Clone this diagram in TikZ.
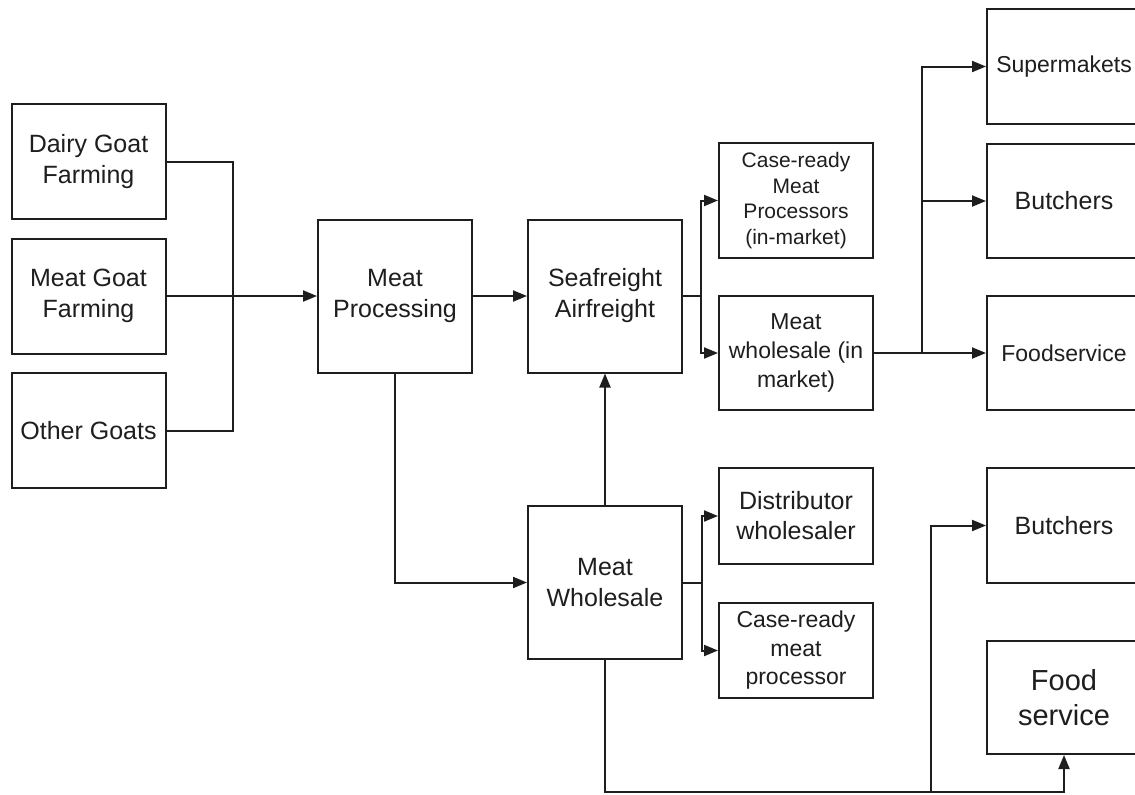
\documentclass[tikz,border=0pt]{standalone}
\usepackage{fontspec}
\setmainfont{Liberation Sans}
\usetikzlibrary{arrows.meta}
\definecolor{ink}{RGB}{30,30,30}
\newcommand{\fsA}{\fontsize{12.5pt}{15.5pt}\selectfont}
\newcommand{\fsB}{\fontsize{11.5pt}{14.5pt}\selectfont}
\newcommand{\fsC}{\fontsize{10.5pt}{12.75pt}\selectfont}
\newcommand{\fsD}{\fontsize{12.5pt}{15pt}\selectfont}
\newcommand{\fsE}{\fontsize{11.5pt}{14.25pt}\selectfont}
\newcommand{\fsF}{\fontsize{14.5pt}{17.5pt}\selectfont}
\tikzset{
  box/.style={draw=ink, text=ink, line width=1pt, inner sep=0pt, align=center, minimum width=77pt, font=\fsA},
  tallbox/.style={box, minimum height=57.5pt},
  sqbox/.style={box, minimum height=76.5pt},
  midbox/.style={box, minimum height=48pt},
  conn/.style={draw=ink, line width=1pt},
  arr/.style={conn, -{Triangle[length=7pt,width=5.5pt]}}
}
\begin{document}
\begin{tikzpicture}[x=0.5pt,y=-0.5pt]
\useasboundingbox (0,0) rectangle (1135,794);
\clip (0,0) rectangle (1135,794);
\fill[white] (0,0) rectangle (1135,794);
% left column
\node[tallbox] (dairy) at (88.5,161.5) {Dairy Goat\\Farming};
\node[tallbox] (mgoat) at (88.5,296) {Meat Goat\\Farming};
\node[tallbox] (other) at (88.5,430.5) {Other Goats};
% processing
\node[sqbox] (mp) at (395,296) {Meat\\Processing};
\node[sqbox] (sa) at (605,296) {Seafreight\\Airfreight};
\node[sqbox] (mw) at (605,582.5) {Meat\\Wholesale};
% in-market
\node[tallbox, font=\fsC] (cr1) at (796,200.5) {Case-ready\\Meat\\Processors\\(in-market)};
\node[tallbox, minimum height=57pt, font=\fsB] (mw1) at (796,353) {Meat\\wholesale (in\\market)};
\node[midbox, font=\fsD] (dist) at (796,516) {Distributor\\wholesaler};
\node[midbox, minimum height=47.5pt, font=\fsE] (crp) at (796,650.5) {Case-ready\\meat\\processor};
% right column
\node[tallbox, font=\fsB] (sm) at (1064,66.5) {Supermakets};
\node[tallbox, minimum height=57pt] (bu1) at (1064,201) {Butchers};
\node[tallbox, minimum height=57pt, font=\fsB] (fs1) at (1064,353) {Foodservice};
\node[tallbox] (bu2) at (1064,525.5) {Butchers};
\node[tallbox, minimum height=56.5pt, font=\fsF] (fs2) at (1064,697.5) {Food\\service};
% junction points
\coordinate (b1) at (233,161.5);
\coordinate (j1) at (701,296);
\coordinate (j2) at (922,353);
\coordinate (j3) at (702,582.5);
\coordinate (c3) at (605,792);
\coordinate (c4) at (931,792);
% connectors
\draw[conn] (dairy.east) -- (b1) |- (other.east);
\draw[arr] (mgoat.east) -- (mp.west);
\draw[arr] (mp.east) -- (sa.west);
\draw[conn] (sa.east) -- (j1);
\draw[arr] (j1) |- (cr1.west);
\draw[arr] (j1) |- (mw1.west);
\draw[arr] (mw1.east) -- (fs1.west);
\draw[arr] (j2) |- (sm.west);
\draw[arr] (j2) |- (bu1.west);
\draw[arr] (mp.south) |- (mw.west);
\draw[arr] (mw.north) -- (sa.south);
\draw[conn] (mw.east) -- (j3);
\draw[arr] (j3) |- (dist.west);
\draw[arr] (j3) |- (crp.west);
\draw[arr] (mw.south) -- (c3) -| (fs2.south);
\draw[arr] (c4) |- (bu2.west);
\end{tikzpicture}
\end{document}
